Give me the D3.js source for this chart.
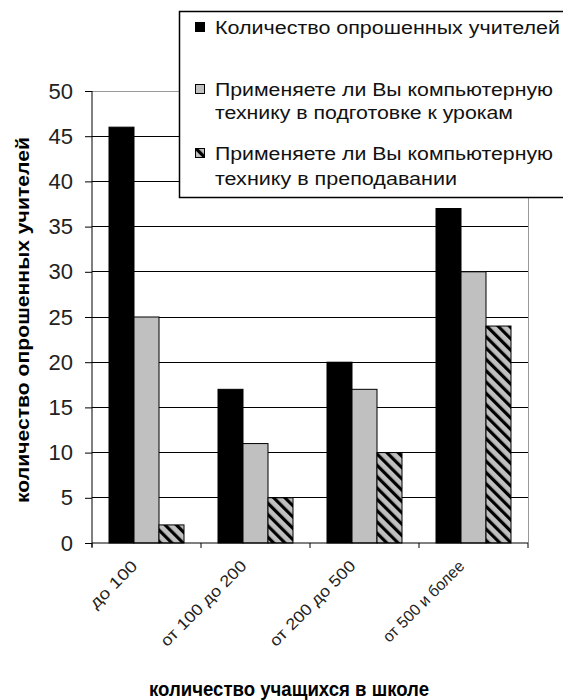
<!DOCTYPE html>
<html>
<head>
<meta charset="utf-8">
<script src="https://cdn.jsdelivr.net/npm/d3@7/dist/d3.min.js"></script>
<style>
  html, body { margin: 0; padding: 0; background: #fff; }
  svg { display: block; font-family: Arial, "Liberation Sans", sans-serif; }
</style>
</head>
<body>
<svg id="chart" width="563" height="700"></svg>
<script>
// School size groups
const categories = ["до 100", "от 100 до 200", "от 200 до 500", "от 500 и более"];
// Survey series
const seriesNames = [
  "Количество опрошенных учителей",
  "Применяете ли Вы компьютерную технику в подготовке к урокам",
  "Применяете ли Вы компьютерную технику в преподавании"
];
const teachersSurveyed = [46, 17, 20, 37];
const usePreparation = [25, 11, 17, 30];
const useTeaching = [2, 5, 10, 24];
const yTicks = [0, 5, 10, 15, 20, 25, 30, 35, 40, 45, 50];

const seriesValues = [teachersSurveyed, usePreparation, useTeaching];
const svg = d3.select("#chart");

// back-diagonal hatch pattern for the third series
const defs = svg.append("defs");
const pat = defs.append("pattern")
  .attr("id", "hatch")
  .attr("patternUnits", "userSpaceOnUse")
  .attr("width", 8).attr("height", 8)
  .attr("patternTransform", "rotate(-45)");
pat.append("rect").attr("width", 8).attr("height", 8).attr("fill", "#c0c0c0");
pat.append("rect").attr("x", 0).attr("y", 0).attr("width", 3.2).attr("height", 8).attr("fill", "#000");

const fills = ["#000000", "#c0c0c0", "url(#hatch)"];

const plot = { left: 92, right: 528, top: 91, bottom: 543 };

const x = d3.scaleBand().domain(categories).range([plot.left, plot.right]).padding(0);
const inner = d3.scaleBand().domain(d3.range(seriesNames.length))
  .range([17, x.bandwidth() - 17]).padding(0);
const y = d3.scaleLinear().domain([0, 50]).range([plot.bottom, plot.top]);

// horizontal grid lines
svg.append("g").selectAll("line").data(yTicks.filter(t => t > 0))
  .join("line")
  .attr("x1", plot.left).attr("x2", plot.right)
  .attr("y1", d => y(d)).attr("y2", d => y(d))
  .attr("stroke", d => d === 50 ? "#999" : "#000")
  .attr("stroke-width", 1)
  .attr("shape-rendering", "crispEdges");

// right border of the plot area
svg.append("line")
  .attr("x1", plot.right).attr("x2", plot.right)
  .attr("y1", plot.top).attr("y2", plot.bottom)
  .attr("stroke", "#999").attr("shape-rendering", "crispEdges");

// bars
const groups = svg.append("g").selectAll("g").data(seriesValues).join("g");
groups.selectAll("rect")
  .data((vals, si) => vals.map((v, ci) => ({ v, ci, si })))
  .join("rect")
  .attr("x", d => x(categories[d.ci]) + inner(d.si))
  .attr("width", inner.bandwidth())
  .attr("y", d => y(d.v))
  .attr("height", d => y(0) - y(d.v))
  .attr("fill", d => fills[d.si])
  .attr("stroke", "#000")
  .attr("stroke-width", 1);

// y axis
const yAxis = d3.axisLeft(y).tickValues(yTicks).tickSize(7).tickPadding(12);
const gy = svg.append("g").attr("transform", `translate(${plot.left},0)`).call(yAxis);
gy.select(".domain").attr("d", `M0,${plot.top}V${plot.bottom + 4}`).attr("stroke", "#000");
gy.selectAll(".tick line").attr("stroke", "#000");
gy.selectAll(".tick text")
  .attr("font-size", 22).attr("fill", "#222")
  .attr("font-family", "Arial, 'Liberation Sans', sans-serif");

// x axis with ticks at category boundaries
const gx = svg.append("g").attr("transform", `translate(0,${plot.bottom})`);
gx.append("line").attr("x1", plot.left).attr("x2", plot.right)
  .attr("y1", 0).attr("y2", 0).attr("stroke", "#000");
gx.selectAll(".bound").data(categories.concat([null]))
  .join("line").attr("class", "bound")
  .attr("x1", (d, i) => plot.left + i * x.bandwidth())
  .attr("x2", (d, i) => plot.left + i * x.bandwidth())
  .attr("y1", 0).attr("y2", 5).attr("stroke", "#000");

// rotated category labels
const labelLen = [60, 114, 114, 108];
svg.append("g").selectAll("text").data(categories).join("text")
  .attr("transform", d => `translate(${x(d) + x.bandwidth() / 2 - 8},${plot.bottom + 24}) rotate(-45)`)
  .attr("text-anchor", "end")
  .attr("font-size", 16)
  .attr("fill", "#222")
  .attr("textLength", (d, i) => labelLen[i])
  .attr("lengthAdjust", "spacingAndGlyphs")
  .text(d => d);

// axis titles
svg.append("text")
  .attr("x", 289).attr("y", 696)
  .attr("text-anchor", "middle")
  .attr("font-size", 20).attr("font-weight", "bold")
  .attr("textLength", 280).attr("lengthAdjust", "spacingAndGlyphs")
  .text("количество учащихся в школе");

svg.append("text")
  .attr("transform", "translate(29,320) rotate(-90)")
  .attr("text-anchor", "middle")
  .attr("font-size", 19).attr("font-weight", "bold")
  .attr("textLength", 366).attr("lengthAdjust", "spacingAndGlyphs")
  .text("количество опрошенных учителей");

// legend
const legend = svg.append("g");
legend.append("rect")
  .attr("x", 179.5).attr("y", 11.5).attr("width", 400).attr("height", 186)
  .attr("fill", "#fff").attr("stroke", "#000").attr("stroke-width", 1.5);

const legendLines = [
  { s: 0, lines: ["Количество опрошенных учителей"], y: [34], len: [345] },
  { s: 1, lines: ["Применяете ли Вы компьютерную", "технику в подготовке к урокам"], y: [96, 119], len: [338, 298] },
  { s: 2, lines: ["Применяете ли Вы компьютерную", "технику в преподавании"], y: [160, 185], len: [338, 242] }
];
legendLines.forEach(item => {
  legend.append("rect")
    .attr("x", 195.5).attr("y", item.y[0] - 11.5).attr("width", 9).attr("height", 9)
    .attr("fill", fills[item.s]).attr("stroke", "#000").attr("stroke-width", 1);
  item.lines.forEach((t, i) => {
    legend.append("text")
      .attr("x", 215).attr("y", item.y[i])
      .attr("font-size", 17.5).attr("fill", "#111")
      .attr("textLength", item.len[i]).attr("lengthAdjust", "spacingAndGlyphs")
      .text(t);
  });
});
</script>
</body>
</html>
